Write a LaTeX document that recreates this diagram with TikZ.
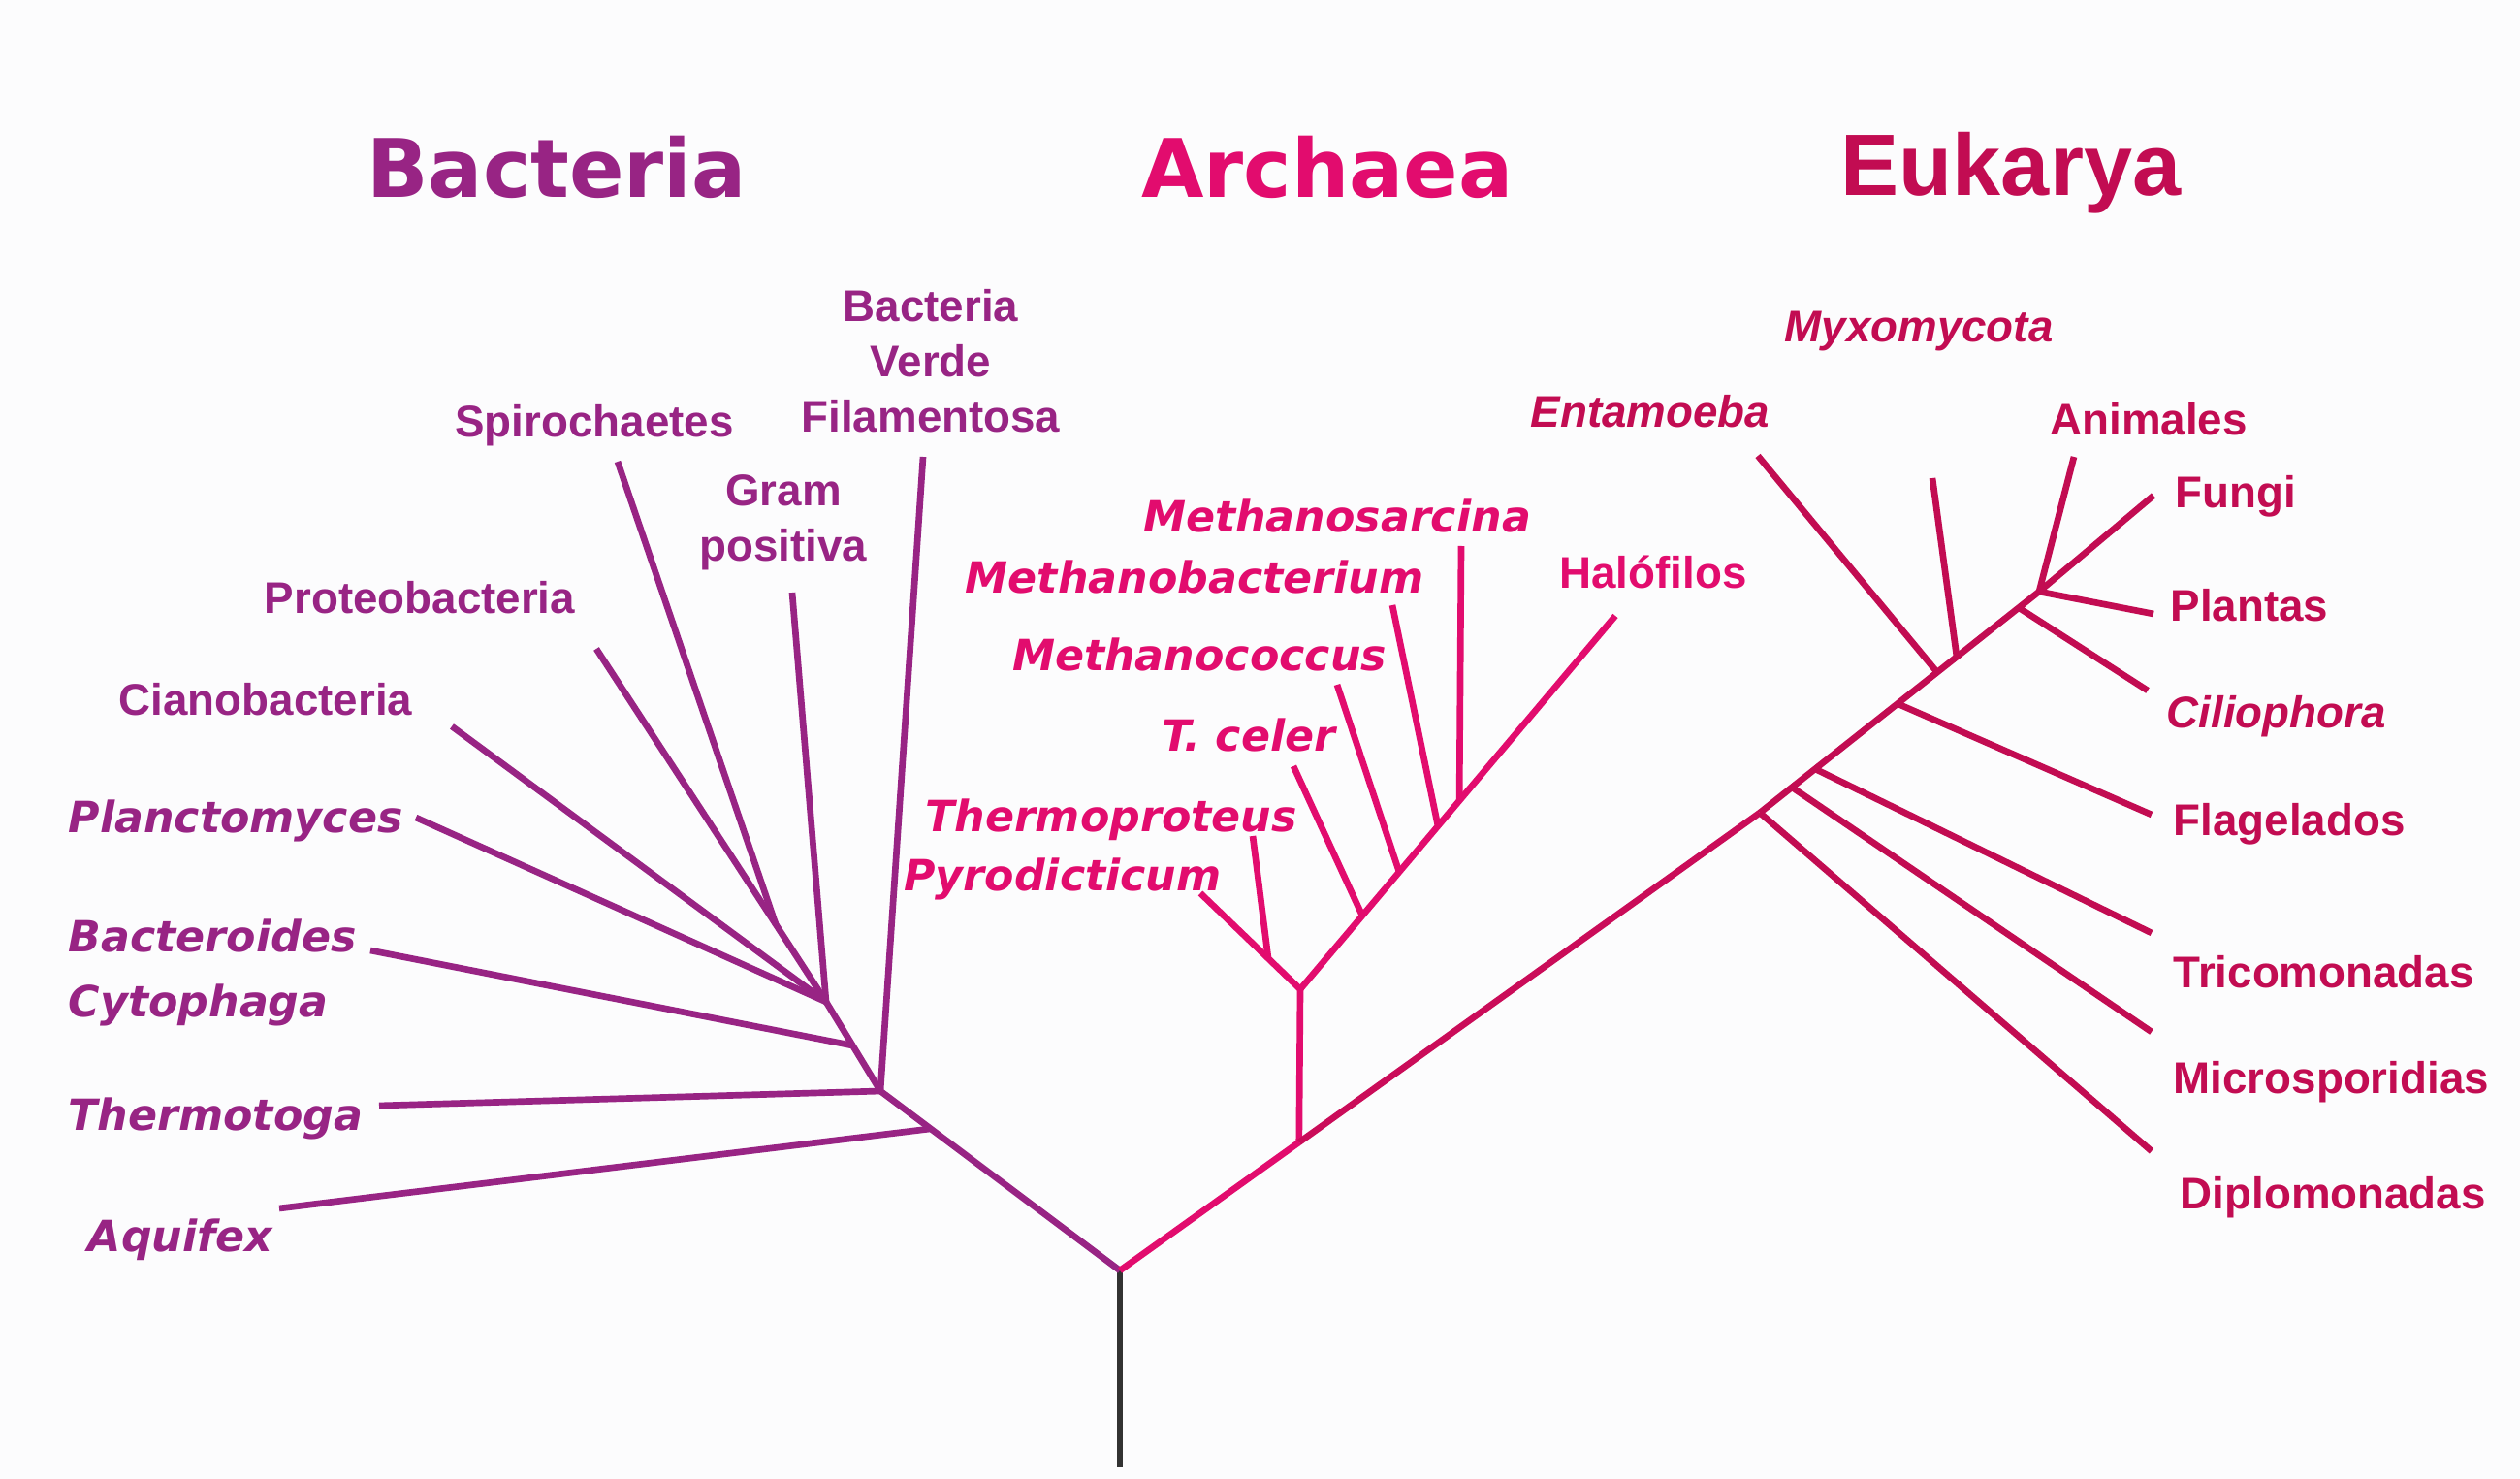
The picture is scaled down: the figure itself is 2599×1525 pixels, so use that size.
\documentclass[tikz,border=0pt]{standalone}
\usepackage{fontspec}
\setmainfont{Liberation Sans}
\newfontfamily\wideface[BoldItalicFont={DejaVu Sans Bold Oblique}]{DejaVu Sans}
\usetikzlibrary{calc}

\definecolor{bactcol}{RGB}{152,36,132}
\definecolor{archcol}{RGB}{226,12,110}
\definecolor{eukcol}{RGB}{194,12,82}
\definecolor{rootcol}{RGB}{50,50,50}
\definecolor{paper}{RGB}{252,252,253}

\begin{document}
\begin{tikzpicture}[
    x=0.01cm, y=-0.01cm,
    every node/.style={inner sep=0pt},
    domtitle/.style={font=\wideface\bfseries\fontsize{23.7}{28}\selectfont, anchor=base},
    domtitleb/.style={font=\bfseries\fontsize{25.6}{30}\selectfont, anchor=base},
    taxon/.style={font=\bfseries\fontsize{13}{16.2}\selectfont},
    taxonit/.style={font=\bfseries\itshape\fontsize{13}{16.2}\selectfont},
    taxonob/.style={font=\wideface\bfseries\itshape\fontsize{12.6}{19}\selectfont},
    branch/.style={line width=1.9pt, line join=round}
]
\fill[paper] (0,0) rectangle (2599,1525);
\useasboundingbox (0,0) rectangle (2599,1525);

% domain titles
\node[domtitle, bactcol] (tbact) at (574,204) {Bacteria};
\node[domtitle, archcol] (tarch) at (1369,204) {Archaea};
\node[domtitleb, eukcol] (teuk) at (2074,202) {Eukarya};

% tree skeleton
\coordinate (root) at (1155,1310);
\coordinate (base) at (1155,1513);
\coordinate (b0) at (908,1125);
\coordinate (b1) at (852,1033);
\coordinate (b2) at (800,953);
\coordinate (e0) at (1815,838);
\coordinate (etop) at (2103,610);
\coordinate (a0) at ($(root)!0.28!(e0)$);
\coordinate (a1) at (1341,1020);

% bacteria tips
\coordinate (pspiro) at (637,476);
\coordinate (pproteo) at (615,669);
\coordinate (pciano) at (466,749);
\coordinate (pplancto) at (429,843);
\coordinate (pgram) at (817,611);
\coordinate (pbactero) at (382,980);
\coordinate (pfilam) at (952,471);
\coordinate (pthermot) at (391,1140);
\coordinate (paquifex) at (288,1246);
\coordinate (jbactero) at ($(b1)!0.49!(b0)$);
\coordinate (jaquifex) at ($(b0)!0.21!(root)$);

% archaea tips
\coordinate (ppyro) at (1238,921);
\coordinate (pthermop) at (1292,862);
\coordinate (pceler) at (1334,790);
\coordinate (pcoccus) at (1379,706);
\coordinate (pbacter) at (1436,624);
\coordinate (psarc) at (1507,563);
\coordinate (phalo) at (1666,635);
\coordinate (jthermop) at ($(a1)!0.32!(ppyro)$);
\coordinate (jceler) at ($(a1)!0.197!(phalo)$);
\coordinate (jcoccus) at ($(a1)!0.314!(phalo)$);
\coordinate (jbacter) at ($(a1)!0.437!(phalo)$);
\coordinate (jsarc) at ($(a1)!0.505!(phalo)$);

% eukarya tips
\coordinate (pentam) at (1813,470);
\coordinate (pmyxo) at (1993,493);
\coordinate (panim) at (2139,471);
\coordinate (pfungi) at (2221,511);
\coordinate (pplant) at (2221,633);
\coordinate (pcilio) at (2215,712);
\coordinate (pflag) at (2219,840);
\coordinate (ptrico) at (2219,962);
\coordinate (pmicro) at (2219,1064);
\coordinate (pdiplo) at (2219,1187);
\coordinate (jmicro) at ($(e0)!0.115!(etop)$);
\coordinate (jtrico) at ($(e0)!0.198!(etop)$);
\coordinate (jflag) at ($(e0)!0.493!(etop)$);
\coordinate (jentam) at ($(e0)!0.635!(etop)$);
\coordinate (jmyxo) at ($(e0)!0.705!(etop)$);
\coordinate (jcilio) at ($(e0)!0.927!(etop)$);

% branches
\draw[branch, rootcol] (root) -- (base);
\draw[branch, bactcol] (root) -- (b0) -- (b1) -- (b2) -- (pspiro);
\draw[branch, bactcol] (b2) -- (pproteo);
\draw[branch, bactcol] (b1) -- (pciano);
\draw[branch, bactcol] (b1) -- (pplancto);
\draw[branch, bactcol] (b1) -- (pgram);
\draw[branch, bactcol] (jbactero) -- (pbactero);
\draw[branch, bactcol] (b0) -- (pfilam);
\draw[branch, bactcol] (b0) -- (pthermot);
\draw[branch, bactcol] (jaquifex) -- (paquifex);

\draw[branch, archcol] (root) -- (a0);
\draw[branch, archcol] (a0) -- (a1) -- (ppyro);
\draw[branch, archcol] (jthermop) -- (pthermop);
\draw[branch, archcol] (a1) -- (phalo);
\draw[branch, archcol] (jceler) -- (pceler);
\draw[branch, archcol] (jcoccus) -- (pcoccus);
\draw[branch, archcol] (jbacter) -- (pbacter);
\draw[branch, archcol] (jsarc) -- (psarc);

\draw[branch, eukcol!75!archcol] (a0) -- (e0);
\draw[branch, eukcol] (e0) -- (etop) -- (panim);
\draw[branch, eukcol] (etop) -- (pfungi);
\draw[branch, eukcol] (etop) -- (pplant);
\draw[branch, eukcol] (jcilio) -- (pcilio);
\draw[branch, eukcol] (jmyxo) -- (pmyxo);
\draw[branch, eukcol] (jentam) -- (pentam);
\draw[branch, eukcol] (jflag) -- (pflag);
\draw[branch, eukcol] (jtrico) -- (ptrico);
\draw[branch, eukcol] (jmicro) -- (pmicro);
\draw[branch, eukcol] (e0) -- (pdiplo);

% bacteria labels
\node[taxon, bactcol, anchor=base] (spiro) at (613,451) {Spirochaetes};
\node[taxon, bactcol, anchor=north, align=center] (filam) at (960,298) {Bacteria\\Verde\\Filamentosa};
\node[taxon, bactcol, anchor=north, align=center] (gram) at (808,489) {Gram\\positiva};
\node[taxon, bactcol, anchor=base] (proteo) at (433,633) {Proteobacteria};
\node[taxon, bactcol, anchor=base] (ciano) at (274,738) {Cianobacteria};
\node[taxonob, bactcol, anchor=base west] (plancto) at (70,859) {Planctomyces};
\node[taxonob, bactcol, anchor=north west, align=left] (bactero) at (70,947) {Bacteroides\\Cytophaga};
\node[taxonob, bactcol, anchor=base west] (thermot) at (70,1165) {Thermotoga};
\node[taxonob, bactcol, anchor=base west] (aquifex) at (90,1290) {Aquifex};

% archaea labels
\node[taxonob, archcol, anchor=base] (sarc) at (1379,549) {Methanosarcina};
\node[taxonob, archcol, anchor=base] (bacter) at (1232,612) {Methanobacterium};
\node[taxonob, archcol, anchor=base] (coccus) at (1237,692) {Methanococcus};
\node[taxonob, archcol, anchor=base] (celer) at (1288,775) {T. celer};
\node[taxonob, archcol, anchor=base] (thermop) at (1146,858) {Thermoproteus};
\node[taxonob, archcol, anchor=base] (pyro) at (1096,919) {Pyrodicticum};
\node[taxon, archcol, anchor=base] (halo) at (1705,607) {Halófilos};

% eukarya labels
\node[taxonit, eukcol, anchor=base] (myxo) at (1979,353) {Myxomycota};
\node[taxonit, eukcol, anchor=base] (entam) at (1702,441) {Entamoeba};
\node[taxon, eukcol, anchor=base] (anim) at (2216,449) {Animales};
\node[taxon, eukcol, anchor=base west] (fungi) at (2243,524) {Fungi};
\node[taxon, eukcol, anchor=base west] (plant) at (2238,641) {Plantas};
\node[taxonit, eukcol, anchor=base west] (cilio) at (2234,751) {Ciliophora};
\node[taxon, eukcol, anchor=base west] (flag) at (2241,862) {Flagelados};
\node[taxon, eukcol, anchor=base west] (trico) at (2241,1018) {Tricomonadas};
\node[taxon, eukcol, anchor=base west] (micro) at (2241,1127) {Microsporidias};
\node[taxon, eukcol, anchor=base west] (diplo) at (2248,1246) {Diplomonadas};
\end{tikzpicture}
\end{document}
